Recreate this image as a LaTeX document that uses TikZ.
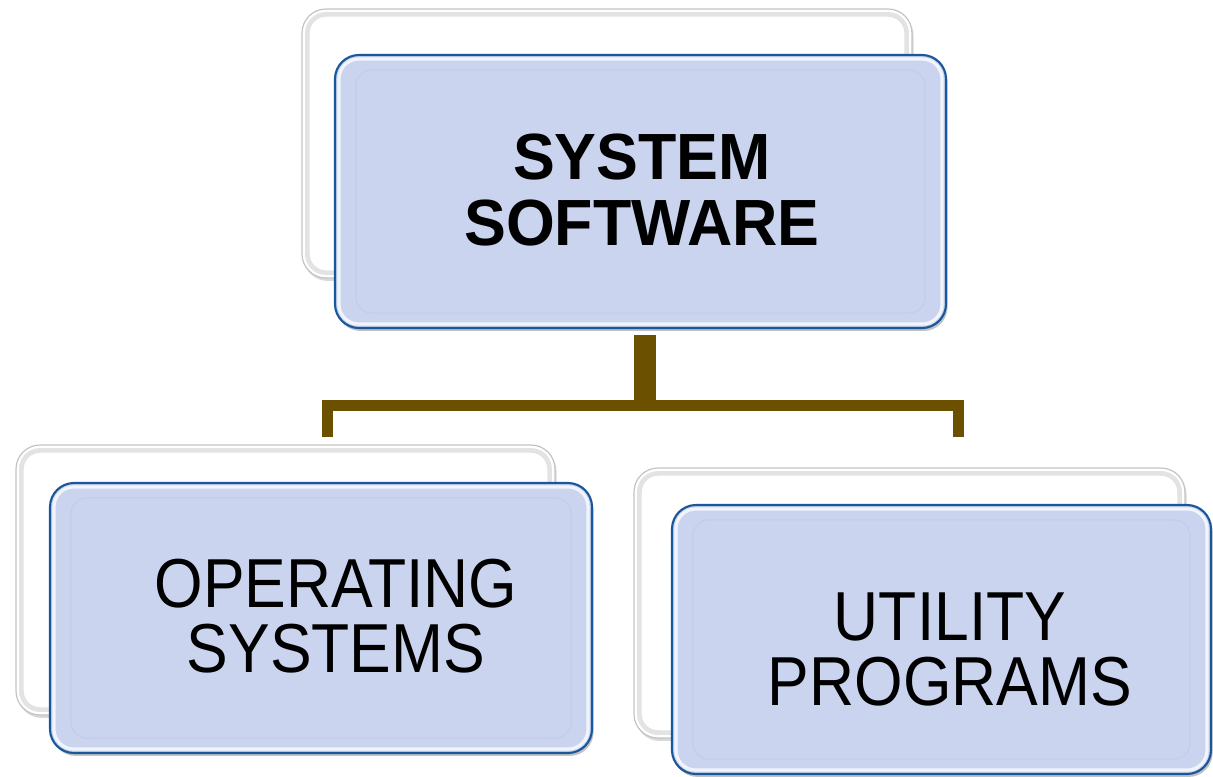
\documentclass[tikz,border=0pt]{standalone}
\usepackage{fontspec}
\setmainfont{Liberation Sans}
\usetikzlibrary{shadows}
\definecolor{boxfill}{HTML}{CAD4EE}
\definecolor{boxline}{HTML}{1A569C}
\definecolor{conncol}{HTML}{6B5000}
\definecolor{backline}{HTML}{C4C4C4}
\tikzset{
  frontbox/.style={rectangle, rounded corners=18pt, fill=boxfill, draw=boxline, line width=1.6pt, inner sep=0pt,
    drop shadow={shadow xshift=1.2pt, shadow yshift=-2.2pt, opacity=0.35, fill=black!70}},
  backbox/.style={rectangle, rounded corners=18pt, fill=white, draw=backline, line width=0.9pt, inner sep=0pt,
    drop shadow={shadow xshift=1.2pt, shadow yshift=-2.2pt, opacity=0.25, fill=black!60}},
  fronthi/.style={draw=white, opacity=0.75, line width=2.4pt, rounded corners=15pt},
  frontin/.style={draw=boxline, opacity=0.04, line width=1.2pt, rounded corners=12pt},
  backhi/.style={draw=black!18, opacity=0.6, line width=3.5pt, rounded corners=14pt},
  trunk/.style={draw=conncol, line width=16.5pt},
  conn/.style={draw=conncol, line width=8.25pt, line join=miter},
  boldtext/.style={font=\fontsize{49pt}{50pt}\selectfont\bfseries, align=center, xscale=0.96, transform shape, inner sep=0pt},
  regtext/.style={font=\fontsize{52pt}{48.75pt}\selectfont, align=center, xscale=0.9, transform shape, inner sep=0pt},
}
\begin{document}
\begin{tikzpicture}[x=0.75pt, y=-0.75pt]
\useasboundingbox (0,0) rectangle (1213,776);
% top
\node[backbox, minimum width=457.5pt, minimum height=201.75pt] (topback) at (607,143.5) {};
\draw[backhi] ([shift={(6,6)}]topback.north west) rectangle ([shift={(-6,-6)}]topback.south east);
\node[frontbox, minimum width=458.25pt, minimum height=204.75pt] (top) at (640.5,191.5) {};
\draw[fronthi] ([shift={(5,5)}]top.north west) rectangle ([shift={(-5,-5)}]top.south east);
\draw[frontin] ([shift={(22,16)}]top.north west) rectangle ([shift={(-22,-16)}]top.south east);
\node[boldtext] (toptext) at (642,190) {SYSTEM\\SOFTWARE};
% left
\node[backbox, minimum width=404.25pt, minimum height=202.5pt] (leftback) at (285.5,580) {};
\draw[backhi] ([shift={(6,6)}]leftback.north west) rectangle ([shift={(-6,-6)}]leftback.south east);
\node[frontbox, minimum width=406.5pt, minimum height=202.5pt] (left) at (321,618) {};
\draw[fronthi] ([shift={(5,5)}]left.north west) rectangle ([shift={(-5,-5)}]left.south east);
\draw[frontin] ([shift={(22,16)}]left.north west) rectangle ([shift={(-22,-16)}]left.south east);
\node[regtext] (lefttext) at (336,616) {OPERATING\\SYSTEMS};
% right
\node[backbox, minimum width=413.25pt, minimum height=202.5pt] (rightback) at (909.5,603) {};
\draw[backhi] ([shift={(6,6)}]rightback.north west) rectangle ([shift={(-6,-6)}]rightback.south east);
\node[frontbox, minimum width=404.25pt, minimum height=201.75pt] (right) at (941.5,639.5) {};
\draw[fronthi] ([shift={(5,5)}]right.north west) rectangle ([shift={(-5,-5)}]right.south east);
\draw[frontin] ([shift={(22,16)}]right.north west) rectangle ([shift={(-22,-16)}]right.south east);
\node[regtext] (righttext) at (950,649) {UTILITY\\PROGRAMS};
% connectors
\coordinate (hub) at (645,405);
\coordinate (trunktop) at (645,335);
\coordinate (lend) at (327,437);
\coordinate (rend) at (958,437);
\draw[trunk] (trunktop) -- (hub);
\draw[conn] (lend) |- (hub) -| (rend);
\end{tikzpicture}
\end{document}
